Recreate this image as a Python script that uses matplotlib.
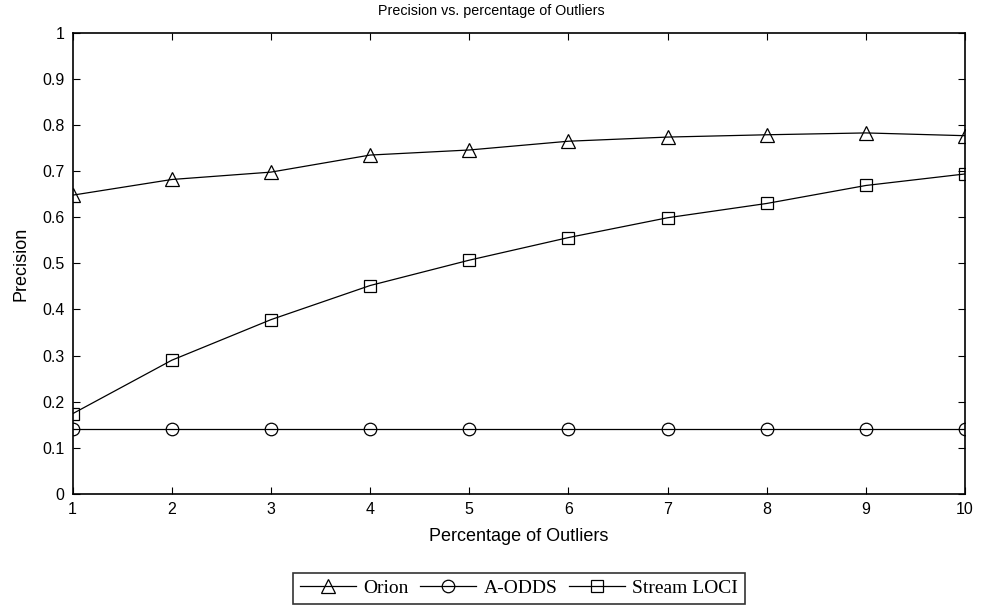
import numpy as np
import matplotlib
matplotlib.use("Agg")
from matplotlib import pyplot as plt

pct = [1, 2, 3, 4, 5, 6, 7, 8, 9, 10]
orion = [0.648, 0.682, 0.698, 0.735, 0.746, 0.765, 0.774, 0.779, 0.783, 0.777]
aodds = [0.14, 0.14, 0.14, 0.14, 0.14, 0.14, 0.14, 0.14, 0.14, 0.14]
stream_loci = [0.174, 0.29, 0.378, 0.452, 0.507, 0.556, 0.599, 0.630, 0.669, 0.694]
ytick_labels = ['0', '0.1', '0.2', '0.3', '0.4', '0.5', '0.6', '0.7', '0.8', '0.9', '1']

plt.rcParams['font.family'] = ['Liberation Sans', 'DejaVu Sans']

fig = plt.figure(figsize=(9.82, 6.09), dpi=100)
ax = fig.add_axes([0.074, 0.189, 0.9087, 0.757])

kw = dict(color='black', lw=0.9, markerfacecolor='none', markeredgecolor='black',
          markeredgewidth=0.9)
ax.plot(pct, orion, marker='^', markersize=10.5, label='Orion', **kw)
ax.plot(pct, aodds, marker='o', markersize=9, label='A-ODDS', **kw)
ax.plot(pct, stream_loci, marker='s', markersize=9, label='Stream LOCI', **kw)

ax.set_xlim(1, 10)
ax.set_ylim(0, 1)
ax.set_xticks(pct)
ax.set_yticks(np.arange(0, 1.01, 0.1))
ax.set_yticklabels(ytick_labels)
ax.tick_params(direction='in', top=True, right=True, labelsize=11.5, length=5, width=0.8, pad=6)
for s in ax.spines.values():
    s.set_linewidth(1.2)

# title sits slightly left of the axes centre in the original
ax.set_title('Precision vs. percentage of Outliers', fontsize=10.3, pad=13, x=0.469)
ax.set_xlabel('Percentage of Outliers', fontsize=13, labelpad=8)
ax.set_ylabel('Precision', fontsize=13, labelpad=9)

leg = ax.legend(loc='center', bbox_to_anchor=(0.5, -0.205), ncol=3, frameon=True,
                fancybox=False, edgecolor='black', handlelength=2.9, columnspacing=0.6,
                handletextpad=0.36, borderpad=0.35, borderaxespad=0,
                prop={'family': 'Liberation Serif', 'size': 14})
leg.get_frame().set_linewidth(1.2)

fig.savefig('out.png', dpi=100)
